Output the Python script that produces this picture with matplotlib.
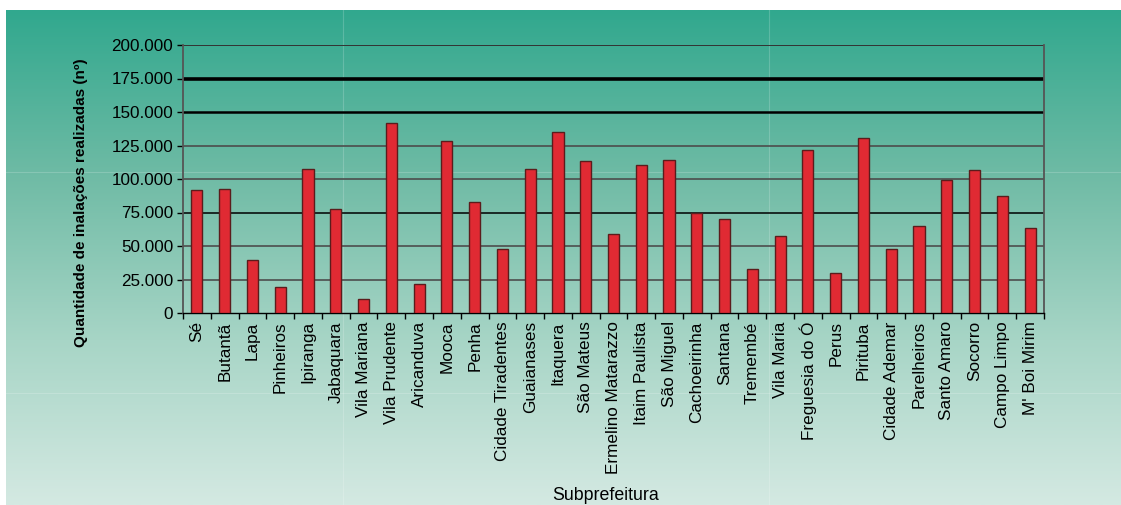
"""Inalações realizadas por subprefeitura — bar chart on a teal gradient panel."""

import matplotlib
matplotlib.use("Agg")
import matplotlib.pyplot as plt
import numpy as np
from matplotlib.colors import LinearSegmentedColormap
from matplotlib.ticker import FixedLocator, FuncFormatter

SUBPREFEITURAS = [
    "Sé", "Butantã", "Lapa", "Pinheiros", "Ipiranga", "Jabaquara",
    "Vila Mariana", "Vila Prudente", "Aricanduva", "Mooca", "Penha",
    "Cidade Tiradentes", "Guaianases", "Itaquera", "São Mateus",
    "Ermelino Matarazzo", "Itaim Paulista", "São Miguel", "Cachoeirinha",
    "Santana", "Tremembé", "Vila Maria", "Freguesia do Ó", "Perus",
    "Pirituba", "Cidade Ademar", "Parelheiros", "Santo Amaro", "Socorro",
    "Campo Limpo", "M' Boi Mirim",
]
INALACOES = [
    91500, 92800, 39700, 19500, 107600, 77700,
    10400, 141600, 21600, 128300, 82600,
    47800, 107500, 135000, 113500,
    59100, 110200, 114100, 74900,
    69900, 32800, 57300, 121400, 29700,
    130300, 47800, 65100, 99200, 106400,
    87000, 63700,
]
Y_TICKS = [0, 25000, 50000, 75000, 100000, 125000, 150000, 175000, 200000]

plt.rcParams["font.family"] = ["Liberation Sans", "DejaVu Sans"]

W, H = 1121, 505
fig = plt.figure(figsize=(W / 100, H / 100), dpi=100, facecolor="white")

# ── teal gradient panel (white margin on the left and top) ──
bg = fig.add_axes([6 / W, 0, 1 - 6 / W, (H - 10) / H], zorder=-10)
grad_cmap = LinearSegmentedColormap.from_list(
    "teal", ["#31a88e", "#6fbba5", "#a7d5c6", "#d4e9e2"]
)
bg.imshow(np.linspace(0, 1, 256)[:, None], aspect="auto", cmap=grad_cmap,
          extent=[0, 1, 0, 1], origin="upper")
# faint tile seams visible in the original slide
for xs in (343, 769):
    bg.axvline((xs - 6) / (W - 6), color="white", lw=0.8, alpha=0.18)
for ys in (172, 393):
    bg.axhline(1 - (ys - 10) / (H - 10), color="white", lw=0.8, alpha=0.18)
bg.set_xlim(0, 1)
bg.set_ylim(0, 1)
bg.axis("off")

# ── main chart ──
L, R, T, B = 183, 1044, 45, 313
ax = fig.add_axes([L / W, 1 - B / H, (R - L) / W, (B - T) / H])
ax.patch.set_alpha(0)

x = np.arange(len(SUBPREFEITURAS))
ax.bar(x, INALACOES, width=0.4, color="#e02a33", edgecolor="#5b1c1c",
       linewidth=1.0, zorder=3)

# horizontal gridlines with the original's mixed weights
grid_style = {
    25000: ("#4d4d4d", 1.2), 50000: ("#4d4d4d", 1.2), 75000: ("black", 1.1),
    100000: ("#4d4d4d", 1.2), 125000: ("#4d4d4d", 1.2),
    150000: ("black", 1.8), 175000: ("black", 2.6), 200000: ("#333333", 1.4),
}
for yv, (c, lw) in grid_style.items():
    ax.axhline(yv, color=c, lw=lw, zorder=1)

ax.set_xlim(-0.5, len(SUBPREFEITURAS) - 0.5)
ax.set_ylim(0, 200000)
ax.set_yticks(Y_TICKS)
ax.yaxis.set_major_formatter(
    FuncFormatter(lambda v, _: f"{int(v):,}".replace(",", "."))
)
ax.set_xticks(x)
ax.set_xticklabels(SUBPREFEITURAS, rotation=90, va="top", ha="center")
ax.xaxis.set_minor_locator(FixedLocator(np.arange(-0.5, len(SUBPREFEITURAS), 1.0)))
ax.tick_params(axis="x", which="major", length=0, pad=6, labelsize=12.3)
ax.tick_params(axis="x", which="minor", length=4, width=1, color="black",
               direction="out")
ax.tick_params(axis="y", length=4, width=1, color="black", labelsize=12.3,
               pad=3)

for side in ("left", "right"):
    ax.spines[side].set_color("#555555")
    ax.spines[side].set_linewidth(1.3)
ax.spines["bottom"].set_color("black")
ax.spines["bottom"].set_linewidth(1.0)
ax.spines["top"].set_visible(False)

ax.set_ylabel("Quantidade de inalações realizadas (nº)", fontsize=11,
              fontweight="bold")
# label sits a little below the axes centre in the original
ax.yaxis.set_label_coords(-(183 - 88) / (R - L), (313 - 203) / (B - T))
fig.text(606 / W, 1 - 495 / H, "Subprefeitura", ha="center", va="center",
         fontsize=12.8)

fig.savefig("out.png", dpi=100, facecolor="white")
